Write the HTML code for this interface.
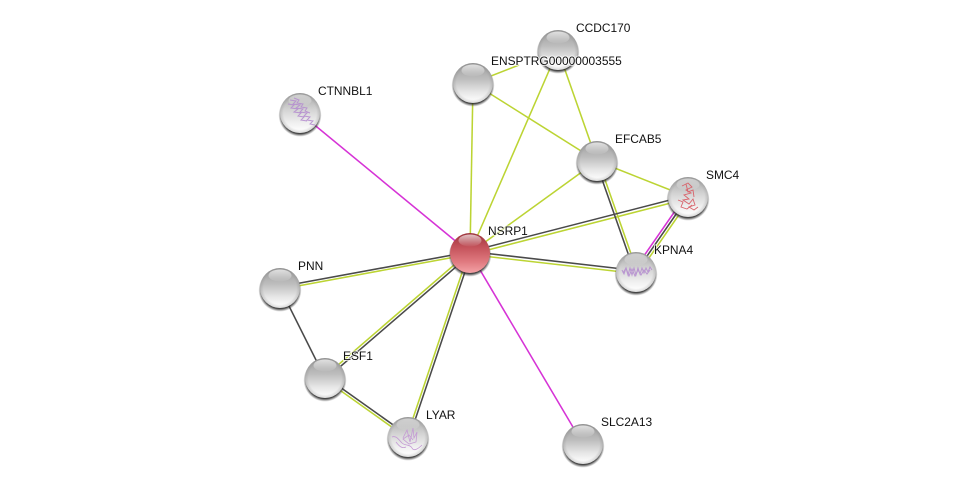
<!DOCTYPE html>
<html>
<head>
<meta charset="utf-8">
<style>
html,body{margin:0;padding:0;background:#fff;width:975px;height:489px;overflow:hidden}
svg{display:block}
text{font-family:"Liberation Sans",sans-serif;font-size:11.95px;fill:#111;paint-order:stroke;stroke:rgba(255,255,255,.7);stroke-width:2px}
</style>
</head>
<body>
<svg width="975" height="489" viewBox="0 0 975 489" xmlns="http://www.w3.org/2000/svg">
<defs>
<linearGradient id="g" x1="0" y1="0" x2="0" y2="1">
<stop offset="0" stop-color="#9b9b9b"/><stop offset=".4" stop-color="#bdbdbd"/><stop offset=".72" stop-color="#e6e6e6"/><stop offset=".95" stop-color="#fdfdfd"/>
</linearGradient>
<linearGradient id="g2" x1="0" y1="0" x2="0" y2="1">
<stop offset="0" stop-color="#a3a3a3"/><stop offset=".4" stop-color="#d2d2d2"/><stop offset=".75" stop-color="#f0f0f0"/><stop offset=".95" stop-color="#fefefe"/>
</linearGradient>
<linearGradient id="r" x1="0" y1="0" x2="0" y2="1">
<stop offset="0" stop-color="#9c343c"/><stop offset=".35" stop-color="#c4525a"/><stop offset=".72" stop-color="#e07a80"/><stop offset="1" stop-color="#f4a2a6"/>
</linearGradient>
<linearGradient id="h" x1="0" y1="0" x2="0" y2="1">
<stop offset="0" stop-color="#fff" stop-opacity=".7"/><stop offset="1" stop-color="#fff" stop-opacity=".03"/>
</linearGradient>
<radialGradient id="s" cx=".5" cy=".5" r=".5">
<stop offset=".86" stop-color="#222" stop-opacity=".85"/><stop offset="1" stop-color="#444" stop-opacity="0"/>
</radialGradient>
<radialGradient id="e" cx=".5" cy=".5" r=".5">
<stop offset=".82" stop-color="#777" stop-opacity="0"/><stop offset="1" stop-color="#777" stop-opacity=".28"/>
</radialGradient>
<g id="n">
<circle cx="0" cy="2.2" r="21.5" fill="url(#s)"/>
<circle r="20" fill="url(#g)"/>
<circle r="20" fill="url(#e)"/>
<ellipse cx="0" cy="-12.5" rx="11.5" ry="6" fill="url(#h)"/>
</g>
<g id="m">
<circle cx="0" cy="2.2" r="21.5" fill="url(#s)"/>
<circle r="20" fill="url(#g2)"/>
<circle r="20" fill="url(#e)"/>
<ellipse cx="0" cy="-12.5" rx="11.5" ry="6" fill="url(#h)" opacity=".7"/>
</g>
</defs>

<g fill="none" stroke-width="1.55">
<g stroke="#bcd433">
<path d="M473 83L470 253"/>
<path d="M558 50L470 253"/>
<path d="M558 50L597 161"/>
<path d="M473 83L597 161"/>
<path d="M473 83L519 65"/>
<path d="M597 161L470 253"/>
<path d="M597 161L688 197"/>
<path d="M598.3 160.6L637.3 271.6"/>
<path d="M688.4 198.5L470.4 254.5"/>
<path d="M469.8 254.5L635.8 273.5"/>
<path d="M690.2 198.5L638.2 273.5"/>
<path d="M470.2 254.2L280.2 289.2"/>
<path d="M469.1 252L324.1 377"/>
<path d="M468.8 252.6L406.8 436.6"/>
<path d="M324.2 379L407.2 438"/>
</g>
<g stroke="#4a4a4a">
<path d="M595.7 161.4L634.7 272.4"/>
<path d="M687.6 195.5L469.6 251.5"/>
<path d="M470.2 251.5L636.2 270.5"/>
<path d="M688 197L636 272"/>
<path d="M469.8 251.8L279.8 286.8"/>
<path d="M470.9 254L325.9 379"/>
<path d="M471.2 253.4L409.2 437.4"/>
<path d="M280 288L325 378"/>
<path d="M325.8 377L408.8 436"/>
</g>
<g stroke="#d633d6">
<path d="M300 113L470 253"/>
<path d="M470 253L583 444"/>
<path d="M685.8 195.5L633.8 270.5"/>
</g>
</g>

<use href="#n" x="558" y="50"/>
<use href="#n" x="473" y="83"/>
<use href="#m" x="300" y="113"/>
<use href="#n" x="597" y="161"/>
<use href="#m" x="688" y="197"/>
<use href="#m" x="636" y="272"/>
<use href="#n" x="280" y="288"/>
<use href="#n" x="325" y="378"/>
<use href="#m" x="408" y="437"/>
<use href="#n" x="583" y="444"/>

<circle cx="470" cy="255.2" r="21.5" fill="url(#s)"/>
<circle cx="470" cy="253" r="20" fill="url(#r)"/>
<ellipse cx="470" cy="240.5" rx="11.5" ry="6" fill="url(#h)"/>

<g fill="none" stroke="#b68fd0" stroke-width="1" opacity=".9">
<path d="M290 100l6 1-3 3 7 1-4 3 7 1-3 3 7 1-3 3 6 1-3 3 6 1-3 3 5 1"/>
<path d="M288 104l6 1-3 3 7 1-4 3 7 1-3 3 6 1-3 3 6 1"/>
<path d="M294 98l5 2-2 3 6 1-2 3 6 1-2 3 5 2"/>
<path d="M622 270l2 4 2-6 2 7 2-7 2 7 2-7 2 7 2-7 2 6 2-6 2 5 2-5 2 4 2-5 2 3"/>
<path d="M623 273l3-5 3 8 3-7 3 7 3-6 3 5 3-5 3 4 3-4"/>
</g>
<g fill="none" stroke="#d9636b" stroke-width=".9">
<path d="M682 186l6-3 4 4-6 3 5 3-7 2 5 4-6 1 6 4 4-5 2 6-6 2 5 3 4-3"/>
<path d="M678 200l5 2-2 5 6 2 5-4"/>
<path d="M686 184l2 8 5-2 1 7"/>
</g>
<g fill="none" stroke="#c49bd4" stroke-width=".8">
<path d="M403 438l4-8 3 12 3-14 1 10 3-6-1 10-7 2-6-5 6-4 4 5"/>
<path d="M392 437c4-2 7 3 10 6s8 1 10 5 7 0 10-3"/>
<path d="M396 442c3 4 6 7 10 5"/>
</g>

<text x="576" y="32">CCDC170</text>
<text x="491" y="65">ENSPTRG00000003555</text>
<text x="318" y="95">CTNNBL1</text>
<text x="615" y="143">EFCAB5</text>
<text x="706" y="179">SMC4</text>
<text x="488" y="235">NSRP1</text>
<text x="654" y="254">KPNA4</text>
<text x="298" y="270">PNN</text>
<text x="343" y="360">ESF1</text>
<text x="426" y="419">LYAR</text>
<text x="601" y="426">SLC2A13</text>
</svg>
</body>
</html>
